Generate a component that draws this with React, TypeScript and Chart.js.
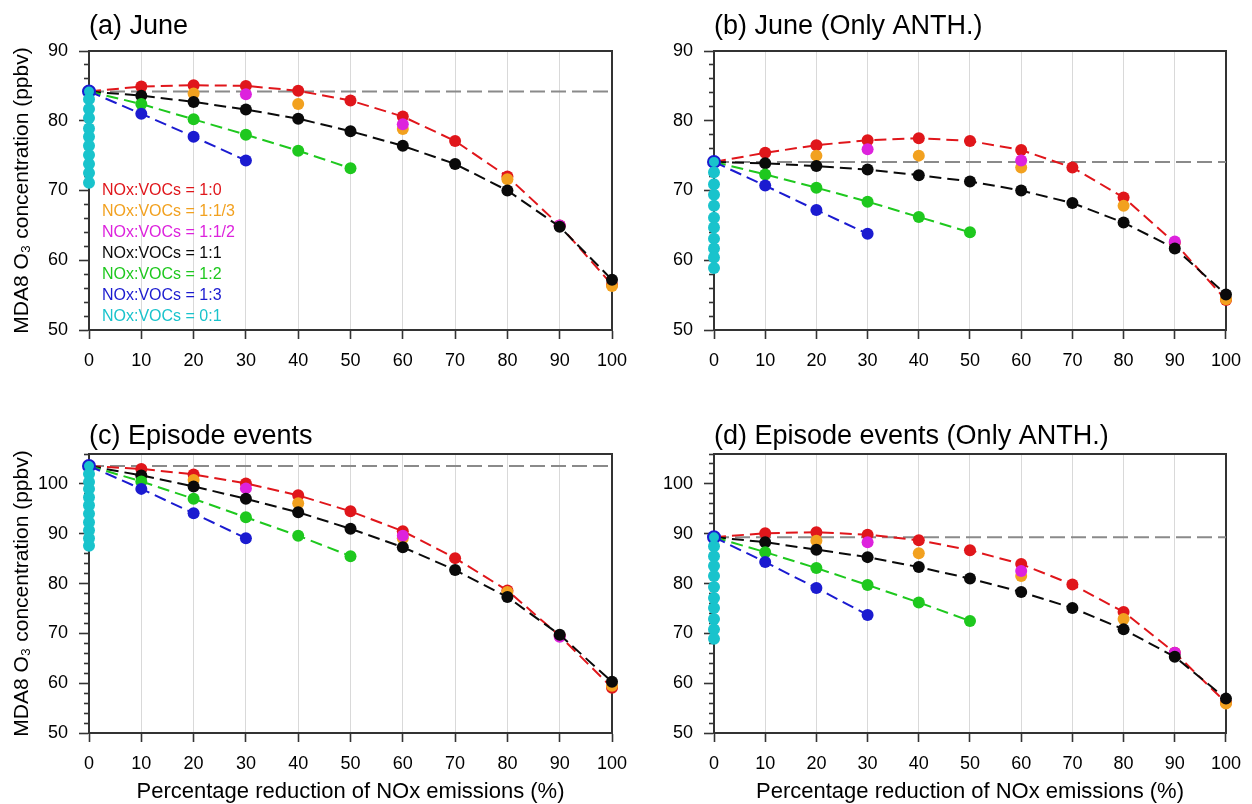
import React, { useEffect, useRef } from 'react';
import { Chart, registerables } from 'chart.js';

Chart.register(...registerables);

const FONT = '"Liberation Sans", Arial, Helvetica, sans-serif';

// ---- x positions (percentage reduction of NOx) ----
const X_ALL = [0, 10, 20, 30, 40, 50, 60, 70, 80, 90, 100];
const X_ORANGE = [0, 20, 40, 60, 80, 100];
const X_MAGENTA = [0, 30, 60, 90];
const X_GREEN = [0, 10, 20, 30, 40, 50];
const X_BLUE = [0, 10, 20, 30];

// ---- text ----
const TITLES = ['(a) June', '(b) June (Only ANTH.)', '(c) Episode events', '(d) Episode events (Only ANTH.)'];
const Y_TITLE = 'MDA8 O\u2083 concentration (ppbv)';
const X_TITLE = 'Percentage reduction of NOx emissions (%)';
const LEGEND_LABELS = [
  'NOx:VOCs = 1:0',
  'NOx:VOCs = 1:1/3',
  'NOx:VOCs = 1:1/2',
  'NOx:VOCs = 1:1',
  'NOx:VOCs = 1:2',
  'NOx:VOCs = 1:3',
  'NOx:VOCs = 0:1',
];

// ---- (a) June ----
const A_BASE = 84.2;
const A_RED = [84.2, 84.9, 85.1, 85.0, 84.3, 82.9, 80.6, 77.1, 72.0, 65.0, 56.5];
const A_ORANGE = [84.2, 83.9, 82.4, 78.8, 71.6, 56.3];
const A_MAGENTA = [84.2, 83.8, 79.5, 65.0];
const A_BLACK = [84.2, 83.6, 82.7, 81.6, 80.3, 78.5, 76.4, 73.8, 70.0, 64.8, 57.2];
const A_GREEN = [84.2, 82.4, 80.2, 78.0, 75.7, 73.2];
const A_BLUE = [84.2, 81.0, 77.7, 74.3];
const A_CYAN = [84.2, 83.1, 81.7, 80.4, 78.9, 77.7, 76.4, 75.1, 73.8, 72.5, 71.1];

// ---- (b) June (Only ANTH.) ----
const B_BASE = 74.1;
const B_RED = [74.1, 75.4, 76.5, 77.2, 77.5, 77.1, 75.8, 73.3, 69.0, 62.5, 54.3];
const B_ORANGE = [74.1, 75.0, 75.0, 73.3, 67.8, 54.4];
const B_MAGENTA = [74.1, 75.9, 74.3, 62.7];
const B_BLACK = [74.1, 73.9, 73.5, 73.0, 72.2, 71.3, 70.0, 68.2, 65.4, 61.7, 55.1];
const B_GREEN = [74.1, 72.3, 70.4, 68.4, 66.2, 64.0];
const B_BLUE = [74.1, 70.7, 67.2, 63.8];
const B_CYAN = [74.1, 72.6, 70.9, 69.4, 67.8, 66.1, 64.7, 63.1, 61.7, 60.4, 58.9];

// ---- (c) Episode events ----
const C_BASE = 103.6;
const C_RED = [103.6, 103.0, 101.9, 100.1, 97.7, 94.5, 90.5, 85.1, 78.6, 69.5, 59.1];
const C_ORANGE = [103.6, 100.8, 96.1, 89.1, 78.3, 59.5];
const C_MAGENTA = [103.6, 99.1, 89.6, 69.3];
const C_BLACK = [103.6, 101.7, 99.5, 97.0, 94.3, 91.0, 87.3, 82.7, 77.3, 69.7, 60.3];
const C_GREEN = [103.6, 100.5, 97.0, 93.3, 89.6, 85.5];
const C_BLUE = [103.6, 99.0, 94.1, 89.1];
const C_CYAN = [103.6, 102.0, 100.4, 99.0, 97.3, 95.7, 94.0, 92.3, 90.7, 89.1, 87.6];

// ---- (d) Episode events (Only ANTH.) ----
const D_BASE = 89.3;
const D_RED = [89.3, 90.1, 90.3, 89.8, 88.7, 86.7, 83.9, 79.8, 74.3, 66.1, 56.1];
const D_ORANGE = [89.3, 88.6, 86.1, 81.5, 72.9, 55.9];
const D_MAGENTA = [89.3, 88.3, 82.5, 66.1];
const D_BLACK = [89.3, 88.3, 86.8, 85.3, 83.3, 81.0, 78.3, 75.1, 70.8, 65.3, 56.9];
const D_GREEN = [89.3, 86.3, 83.1, 79.7, 76.2, 72.5];
const D_BLUE = [89.3, 84.3, 79.1, 73.7];
const D_CYAN = [89.3, 87.5, 85.5, 83.5, 81.5, 79.3, 77.1, 75.1, 72.9, 70.8, 68.9];

// ---- colours ----
const RED = '#e0161b';
const ORANGE = '#f2a11f';
const MAGENTA = '#dd22dd';
const BLACK = '#0a0a0a';
const GREEN = '#1ec81e';
const BLUE = '#1b1bd0';
const CYAN = '#19c3cc';
const GRAY = '#8a8a8a';
const LEGEND_COLORS = [RED, ORANGE, MAGENTA, BLACK, GREEN, BLUE, CYAN];

const pts = (xs: number[], ys: number[]) => ys.map((y, i) => ({ x: xs[i], y }));
const atZero = (ys: number[]) => ys.map((y) => ({ x: 0, y }));

type PanelDef = {
  title: string;
  base: number;
  red: number[];
  orange: number[];
  magenta: number[];
  black: number[];
  green: number[];
  blue: number[];
  cyan: number[];
  yMax: number;
  left: number;
  top: number;
  width: number;
  height: number;
  yWidth: number;
  xHeight: number;
  padRight: number;
  titleTop: number;
  titleBottom: number;
  showYTitle: boolean;
  showXTitle: boolean;
  showLegend: boolean;
};

const PANELS: PanelDef[] = [
  {
    title: TITLES[0], base: A_BASE, red: A_RED, orange: A_ORANGE, magenta: A_MAGENTA, black: A_BLACK,
    green: A_GREEN, blue: A_BLUE, cyan: A_CYAN, yMax: 90,
    left: 0, top: 0, width: 640, height: 402, yWidth: 89, xHeight: 72, padRight: 28,
    titleTop: 13.5, titleBottom: 10.5, showYTitle: true, showXTitle: false, showLegend: true,
  },
  {
    title: TITLES[1], base: B_BASE, red: B_RED, orange: B_ORANGE, magenta: B_MAGENTA, black: B_BLACK,
    green: B_GREEN, blue: B_BLUE, cyan: B_CYAN, yMax: 90,
    left: 640, top: 0, width: 612, height: 402, yWidth: 74, xHeight: 72, padRight: 16,
    titleTop: 13.5, titleBottom: 10.5, showYTitle: false, showXTitle: false, showLegend: false,
  },
  {
    title: TITLES[2], base: C_BASE, red: C_RED, orange: C_ORANGE, magenta: C_MAGENTA, black: C_BLACK,
    green: C_GREEN, blue: C_BLUE, cyan: C_CYAN, yMax: 106,
    left: 0, top: 402, width: 640, height: 402, yWidth: 89, xHeight: 71, padRight: 28,
    titleTop: 21.5, titleBottom: 3.5, showYTitle: true, showXTitle: true, showLegend: false,
  },
  {
    title: TITLES[3], base: D_BASE, red: D_RED, orange: D_ORANGE, magenta: D_MAGENTA, black: D_BLACK,
    green: D_GREEN, blue: D_BLUE, cyan: D_CYAN, yMax: 106,
    left: 640, top: 402, width: 612, height: 402, yWidth: 74, xHeight: 71, padRight: 16,
    titleTop: 21.5, titleBottom: 3.5, showYTitle: false, showXTitle: true, showLegend: false,
  },
];

const DASH = [12, 6];
const R = 6;

function lineSet(label: string, data: { x: number; y: number }[], color: string, order: number) {
  return {
    label,
    data,
    order,
    showLine: true,
    borderColor: color,
    borderWidth: 2,
    borderDash: DASH,
    pointRadius: R,
    pointHoverRadius: R,
    pointBackgroundColor: color,
    pointBorderColor: color,
    pointBorderWidth: 0,
    clip: false as const,
    xAxisID: 'x',
    yAxisID: 'y',
  };
}

function pointSet(label: string, data: { x: number; y: number }[], color: string, order: number) {
  return {
    label,
    data,
    order,
    showLine: false,
    pointRadius: R,
    pointHoverRadius: R,
    pointBackgroundColor: color,
    pointBorderColor: color,
    pointBorderWidth: 0,
    clip: false as const,
    xAxisID: 'x',
    yAxisID: 'y',
  };
}

// keeps the in-plot legend anchored to the plot area (bottom-left)
const legendAnchor = {
  id: 'legendAnchor',
  beforeDraw(chart: any) {
    const lg = chart.legend;
    if (lg && lg.options && lg.options.display) {
      lg.top = chart.chartArea.top;
      lg.bottom = chart.chartArea.bottom;
    }
  },
};

function buildConfig(p: PanelDef): any {
  const isMajor = (c: any) => c && c.tick && Math.round(c.tick.value) % 10 === 0;
  const datasets: any[] = [
    {
      label: 'base',
      data: [{ x: 0, y: p.base }, { x: 100, y: p.base }],
      order: 9,
      showLine: true,
      borderColor: GRAY,
      borderWidth: 2,
      borderDash: [15, 6],
      pointRadius: 0,
      clip: false,
      xAxisID: 'x',
      yAxisID: 'y',
    },
    lineSet(LEGEND_LABELS[0], pts(X_ALL, p.red), RED, 7),
    pointSet(LEGEND_LABELS[1], pts(X_ORANGE, p.orange), ORANGE, 6),
    pointSet(LEGEND_LABELS[2], pts(X_MAGENTA, p.magenta), MAGENTA, 5),
    lineSet(LEGEND_LABELS[3], pts(X_ALL, p.black), BLACK, 4),
    lineSet(LEGEND_LABELS[4], pts(X_GREEN, p.green), GREEN, 3),
    lineSet(LEGEND_LABELS[5], pts(X_BLUE, p.blue), BLUE, 2),
    {
      ...pointSet(LEGEND_LABELS[6], atZero(p.cyan), CYAN, 1),
      pointBorderColor: (c: any) => (c.dataIndex === 0 ? BLUE : CYAN),
      pointBorderWidth: (c: any) => (c.dataIndex === 0 ? 2 : 0),
    },
  ];

  return {
    type: 'scatter',
    data: { datasets },
    plugins: [legendAnchor],
    options: {
      animation: false,
      responsive: false,
      maintainAspectRatio: false,
      events: [],
      layout: { padding: { left: 0, top: 0, right: p.padRight, bottom: 0 } },
      plugins: {
        tooltip: { enabled: false },
        title: {
          display: true,
          text: p.title,
          align: 'start',
          fullSize: false,
          color: '#000',
          font: { family: FONT, size: 27, weight: 'normal', lineHeight: 1 },
          padding: { top: p.titleTop, bottom: p.titleBottom },
        },
        legend: {
          display: p.showLegend,
          position: 'chartArea',
          align: 'end',
          labels: {
            boxWidth: 0,
            boxHeight: 0,
            padding: 5,
            font: { family: FONT, size: 16 },
            generateLabels: () =>
              LEGEND_LABELS.map((t, i) => ({
                text: t,
                fontColor: LEGEND_COLORS[i],
                fillStyle: 'rgba(0,0,0,0)',
                strokeStyle: 'rgba(0,0,0,0)',
                lineWidth: 0,
                hidden: false,
                datasetIndex: i + 1,
              })),
          },
        },
      },
      scales: {
        x: {
          type: 'linear',
          position: 'bottom',
          min: 0,
          max: 100,
          ticks: {
            stepSize: 10,
            autoSkip: false,
            maxRotation: 0,
            padding: 11,
            color: '#000',
            font: { family: FONT, size: 18 },
          },
          grid: {
            color: '#d9d9d9',
            lineWidth: 1,
            tickLength: 9,
            tickColor: '#333',
            tickWidth: 1.6,
          },
          border: { display: true, color: '#333', width: 2 },
          title: {
            display: p.showXTitle,
            text: X_TITLE,
            color: '#000',
            font: { family: FONT, size: 22, lineHeight: 1.1 },
            padding: { top: 0, bottom: 0 },
          },
          afterFit: (s: any) => {
            s.height = p.xHeight;
          },
        },
        y: {
          type: 'linear',
          position: 'left',
          min: 50,
          max: p.yMax,
          ticks: {
            stepSize: 2,
            autoSkip: false,
            padding: 11,
            color: '#000',
            font: { family: FONT, size: 18 },
            callback: (v: any) => (Math.round(Number(v)) % 10 === 0 ? String(v) : ''),
          },
          grid: {
            drawOnChartArea: false,
            tickLength: 10,
            tickColor: '#333',
            tickWidth: 1.6,
            tickBorderDash: (c: any) => (isMajor(c) ? [] : [5, 5]),
            tickBorderDashOffset: (c: any) => (isMajor(c) ? 0 : 5),
          },
          border: { display: true, color: '#333', width: 2 },
          title: {
            display: p.showYTitle,
            text: Y_TITLE,
            color: '#000',
            font: { family: FONT, size: 21, lineHeight: 1.2 },
            padding: { top: 9.5, bottom: 0 },
          },
          afterFit: (s: any) => {
            s.width = p.yWidth;
          },
        },
        x2: {
          type: 'linear',
          axis: 'x',
          position: 'top',
          ticks: { display: false },
          grid: { display: false, drawTicks: false },
          border: { display: true, color: '#333', width: 2 },
          afterFit: (s: any) => {
            s.height = 0;
          },
        },
        y2: {
          type: 'linear',
          axis: 'y',
          position: 'right',
          ticks: { display: false },
          grid: { display: false, drawTicks: false },
          border: { display: true, color: '#333', width: 2 },
          afterFit: (s: any) => {
            s.width = 0;
          },
        },
      },
    },
  };
}

function Panel({ p }: { p: PanelDef }) {
  const ref = useRef<HTMLCanvasElement>(null);
  useEffect(() => {
    if (!ref.current) return;
    const chart = new Chart(ref.current, buildConfig(p));
    return () => chart.destroy();
  }, [p]);
  return (
    <canvas
      ref={ref}
      width={p.width}
      height={p.height}
      style={{ position: 'absolute', left: p.left, top: p.top, width: p.width, height: p.height }}
    />
  );
}

export default function App() {
  useEffect(() => {
    document.body.style.margin = '0';
    document.body.style.overflow = 'hidden';
  }, []);
  return (
    <div style={{ position: 'absolute', left: 0, top: 0, width: 1252, height: 804, background: '#fff', overflow: 'hidden' }}>
      {PANELS.map((p, i) => (
        <Panel key={i} p={p} />
      ))}
    </div>
  );
}
